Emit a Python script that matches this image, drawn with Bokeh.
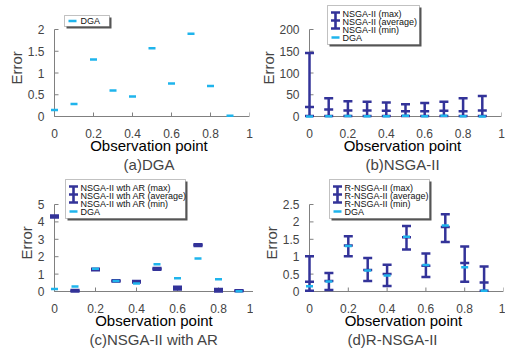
import math
from bokeh.plotting import figure
from bokeh.layouts import gridplot
from bokeh.models import FixedTicker, Title, BoxAnnotation, Label, ColumnDataSource
from bokeh.embed import file_html
from bokeh.resources import INLINE

# ---------------- data ----------------
obs_x = [0.0, 0.1, 0.2, 0.3, 0.4, 0.5, 0.6, 0.7, 0.8, 0.9]
dga = [0.15, 0.29, 1.31, 0.60, 0.46, 1.57, 0.76, 1.90, 0.70, 0.02]

nsga_max = [146, 42, 35, 34, 32, 28, 31, 34, 42, 47]
nsga_avg = [22, 16, 14, 14, 13, 12, 12, 13, 12, 14]
nsga_min = [1, 1, 1, 1, 1, 1, 1, 1, 1, 1]

ar_max = [4.37, 0.09, 1.31, 0.64, 0.60, 1.35, 0.27, 2.72, 0.15, 0.07]
ar_avg = [4.31, 0.05, 1.27, 0.60, 0.56, 1.31, 0.22, 2.67, 0.06, 0.04]
ar_min = [4.26, 0.00, 1.22, 0.57, 0.52, 1.25, 0.12, 2.62, 0.00, 0.01]

r_max = [1.01, 0.53, 1.59, 0.96, 0.77, 1.88, 1.09, 2.22, 1.29, 0.72]
r_avg = [0.28, 0.30, 1.32, 0.62, 0.50, 1.56, 0.74, 1.85, 0.82, 0.26]
r_min = [0.02, 0.04, 1.01, 0.30, 0.16, 1.21, 0.42, 1.42, 0.28, 0.02]

x_ticks = [0, 0.2, 0.4, 0.6, 0.8, 1]
x_tick_labels = ["0", "0.2", "0.4", "0.6", "0.8", "1"]
ya_ticks = [0, 0.5, 1, 1.5, 2]
ya_labels = ["0", "0.5", "1", "1.5", "2"]
yb_ticks = [0, 50, 100, 150, 200]
yb_labels = ["0", "50", "100", "150", "200"]
yc_ticks = [0, 1, 2, 3, 4, 5]
yc_labels = ["0", "1", "2", "3", "4", "5"]
yd_ticks = [0, 0.5, 1, 1.5, 2, 2.5]
yd_labels = ["0", "0.5", "1", "1.5", "2", "2.5"]

titles = ["(a)DGA", "(b)NSGA-II", "(c)NSGA-II with AR", "(d)R-NSGA-II"]
x_label = "Observation point"
y_label = "Error"
dga_name = "DGA"
legend_b = ["NSGA-II (max)", "NSGA-II (average)", "NSGA-II (min)"]
legend_c = ["NSGA-II wth AR (max)", "NSGA-II wth AR (average)", "NSGA-II wth AR (min)"]
legend_d = ["R-NSGA-II (max)", "R-NSGA-II (average)", "R-NSGA-II (min)"]

# ---------------- style ----------------
FONT = "Liberation Sans"
DARK = "#333399"
LIGHT = "#1FB4EC"
AXIS = "#808080"
FH = 87          # height of the data area (px)
EXT = 26         # extra frame space above the data area, for the legend
PAD = 6          # frame space left of x=0 and below y=0, so marks on the axes show whole


def panel(title, y_top, yt, yl, bl, fw, br, bb, t_align="center", t_offset=0):
    x0 = x_ticks[0]
    x1 = x_ticks[-1]
    p = figure(x_range=(x0 - (x1 - x0) * PAD / fw, x1),
               y_range=(-y_top * PAD / FH, y_top * (FH + EXT) / FH),
               frame_width=fw + PAD, frame_height=FH + EXT + PAD,
               min_border_left=bl - PAD, min_border_right=br, min_border_top=3,
               min_border_bottom=bb - PAD, output_backend="svg",
               toolbar_location=None, tools="")
    p.outline_line_color = None
    p.grid.visible = False
    p.xaxis.ticker = FixedTicker(ticks=x_ticks)
    p.xaxis.major_label_overrides = dict(zip(x_ticks, x_tick_labels))
    p.yaxis.ticker = FixedTicker(ticks=yt)
    p.yaxis.major_label_overrides = dict(zip(yt, yl))
    for ax in (p.xaxis[0], p.yaxis[0]):
        ax.axis_line_color = None
        ax.major_tick_line_color = None
        ax.major_tick_in = 0
        ax.major_tick_out = 0
        ax.minor_tick_line_color = None
        ax.major_label_text_font = FONT
        ax.major_label_text_font_size = "12px"
        ax.major_label_text_color = "#444444"
        ax.axis_label_text_font = FONT
        ax.axis_label_text_font_size = "15px"
        ax.axis_label_text_font_style = "normal"
        ax.axis_label_text_color = "#000000"
    p.xaxis.axis_label = x_label
    p.xaxis.major_label_standoff = 12 - PAD
    p.xaxis.axis_label_standoff = -4
    p.yaxis.major_label_standoff = 10 - PAD
    # visible axis lines and inward ticks, running through the zero of each scale
    p.segment(x0=[x0, x0], y0=[yt[0], yt[0]], x1=[x1, x0], y1=[yt[0], yt[-1]],
              line_color=AXIS, line_width=1)
    p.ray(x=[x0] * len(yt), y=yt, length=4, length_units="screen", angle=0,
          line_color=AXIS, line_width=1)
    p.ray(x=x_ticks, y=[yt[0]] * len(x_ticks), length=4, length_units="screen",
          angle=math.pi / 2, line_color=AXIS, line_width=1)
    # y-axis label, centred a little above the middle of the data area
    p.add_layout(Title(text=y_label, align="left", offset=32 + PAD, text_font=FONT,
                       text_font_size="15px", text_font_style="normal",
                       standoff=0), "left")
    p.add_layout(Title(text=title, align=t_align, offset=t_offset, text_font=FONT,
                       text_font_size="15px", text_font_style="normal",
                       standoff=-6), "below")
    return p


def error_bars(p, mx, av, mn):
    src = ColumnDataSource(dict(x=obs_x, hi=mx, mid=av, lo=mn))
    p.segment(x0="x", y0="lo", x1="x", y1="hi", source=src,
              line_color=DARK, line_width=2.5)
    for col in ("hi", "mid", "lo"):
        p.scatter(x="x", y=col, source=src, marker="dash", size=9,
                  line_color=DARK, line_width=2.5)


def dga_marks(p):
    src = ColumnDataSource(dict(x=obs_x, y=dga))
    p.scatter(x="x", y="y", source=src, marker="dash", size=7,
              line_color=LIGHT, line_width=2.5)


def sbox(p, l, r, t, b, **kw):
    # l, r: px right of x=0; t, b: px below the data-area top (negative = above)
    p.add_layout(BoxAnnotation(left=l + PAD, right=r + PAD,
                               top=FH + PAD - t, bottom=FH + PAD - b,
                               left_units="screen", right_units="screen",
                               top_units="screen", bottom_units="screen", **kw))


def slabel(p, x, y, text):
    p.add_layout(Label(x=x + PAD, y=FH + PAD - y, x_units="screen", y_units="screen",
                       text=text, text_font=FONT, text_font_size="9px",
                       text_color="#111111", text_baseline="middle",
                       text_align="left"))


def legend_simple(p, left, right, top, bottom):
    sbox(p, left + 2, right + 2, top + 2, bottom + 2, fill_color="#555555",
         fill_alpha=1, line_alpha=0)
    sbox(p, left, right, top, bottom, fill_color="white", fill_alpha=1,
         line_color="#333333", line_width=1)
    row = (top + bottom) / 2
    c = left + 8
    sbox(p, c - 4, c + 4, row - 1.25, row + 1.25, fill_color=LIGHT,
         fill_alpha=1, line_alpha=0)
    slabel(p, left + 16, row, dga_name)


def legend_bars(p, left, right, labels, top=-25):
    bottom = top + 39
    rows = [top + 8, top + 16, top + 24, top + 32]
    sbox(p, left + 2, right + 2, top + 2, bottom + 2, fill_color="#555555",
         fill_alpha=1, line_alpha=0)
    sbox(p, left, right, top, bottom, fill_color="white", fill_alpha=1,
         line_color="#333333", line_width=1)
    c = left + 8
    sbox(p, c - 1.3, c + 1.3, rows[0] - 1, rows[2] - 1, fill_color=DARK,
         fill_alpha=1, line_alpha=0)
    for r in rows[:3]:
        sbox(p, c - 4.5, c + 4.5, r - 2.3, r + 0.2, fill_color=DARK,
             fill_alpha=1, line_alpha=0)
    sbox(p, c - 4, c + 4, rows[3] - 1.25, rows[3] + 1.25, fill_color=LIGHT,
         fill_alpha=1, line_alpha=0)
    for r, t in zip(rows, labels + [dga_name]):
        slabel(p, left + 15, r, t)


pa = panel(titles[0], 2, ya_ticks, ya_labels, 54, 195, 4, 59)
dga_marks(pa)
legend_simple(pa, 10, 55, -14, -3)

pb = panel(titles[1], 200, yb_ticks, yb_labels, 56, 192, 4, 59)
error_bars(pb, nsga_max, nsga_avg, nsga_min)
dga_marks(pb)
legend_bars(pb, 18, 110, legend_b, top=-24)

pc = panel(titles[2], 5, yc_ticks, yc_labels, 44, 205, 4, 58)
error_bars(pc, ar_max, ar_avg, ar_min)
dga_marks(pc)
legend_bars(pc, 11, 131, legend_c)

pd = panel(titles[3], 2.5, yd_ticks, yd_labels, 55, 194, 3, 58,
           t_align="left", t_offset=38 + PAD)
error_bars(pd, r_max, r_avg, r_min)
dga_marks(pd)
legend_bars(pd, 20, 120, legend_d)

grid = gridplot([[pa, pb], [pc, pd]], toolbar_location=None)

open("out.html", "w").write(file_html(grid, INLINE))
